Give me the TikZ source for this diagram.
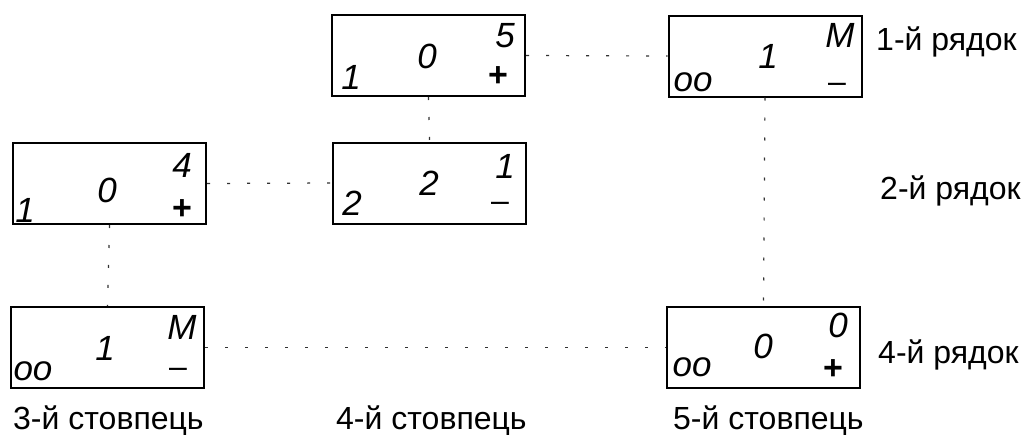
\documentclass[tikz,border=0pt]{standalone}
\usepackage{fontspec}
\setmainfont{Liberation Sans}
\begin{document}
\begin{tikzpicture}[x=1pt,y=-1pt,
  box/.style={draw,line width=2pt,minimum width=193pt,minimum height=81pt,inner sep=0pt},
  num/.style={inner sep=0pt,anchor=base,font=\fontsize{35}{35}\selectfont\itshape},
  sgn/.style={inner sep=0pt,font=\fontsize{34}{34}\selectfont\bfseries},
  mns/.style={inner sep=0pt,font=\fontsize{32}{32}\selectfont},
  lbl/.style={inner sep=0pt,anchor=base west,font=\fontsize{32}{32}\selectfont},
  link/.style={line width=1.2pt,black!80,dash pattern=on 3pt off 17pt}]
\useasboundingbox (0,0) rectangle (1023,434);
% boxes
\node[box] (A) at (428.5,55.5) {};
\node[box] (B) at (765,56) {};
\node[box] (C) at (109.5,183.5) {};
\node[box] (D) at (429.5,183) {};
\node[box] (E) at (107.5,347.5) {};
\node[box] (F) at (763.5,347.5) {};
% connectors
\draw[link] (A.east) -- (B.west);
\draw[link] (A.south) -- (D.north);
\draw[link] (C.east) -- (D.west);
\draw[link] (C.south) -- (E.north);
\draw[link] (B.south) -- (F.north);
\draw[link] (E.east) -- (F.west);
% box A
\node[num] (a1) at (505,47) {5};
\node[num] (a2) at (427,68) {0};
\node[num] (a3) at (351,89) {1};
\node[sgn] (a4) at (498,77) {+};
% box B
\node[num] (b1) at (840,47) {M};
\node[num] (b2) at (768,68) {1};
\node[num] (b3) at (693,91) {oo};
\node[mns] (b4) at (837,88) {–};
% box C
\node[num] (c1) at (182,177) {4};
\node[num] (c2) at (107,202) {0};
\node[num] (c3) at (25,222) {1};
\node[sgn] (c4) at (182,210) {+};
% box D
\node[num] (d1) at (505,178) {1};
\node[num] (d2) at (429,195) {2};
\node[num] (d3) at (352,215) {2};
\node[mns] (d4) at (500,207) {–};
% box E
\node[num] (e1) at (182,339) {M};
\node[num] (e2) at (105,360) {1};
\node[num] (e3) at (33,380) {oo};
\node[mns] (e4) at (178,373) {–};
% box F
\node[num] (f1) at (838,337) {0};
\node[num] (f2) at (763,358) {0};
\node[num] (f3) at (692,376) {oo};
\node[sgn] (f4) at (833,370) {+};
% labels
\node[lbl] (r1) at (876,50) {1-й рядок};
\node[lbl] (r2) at (880,199) {2-й рядок};
\node[lbl] (r4) at (878,363) {4-й рядок};
\node[lbl] (k3) at (13,429) {3-й стовпець};
\node[lbl] (k4) at (336,429) {4-й стовпець};
\node[lbl] (k5) at (673,429) {5-й стовпець};
\end{tikzpicture}
\end{document}
